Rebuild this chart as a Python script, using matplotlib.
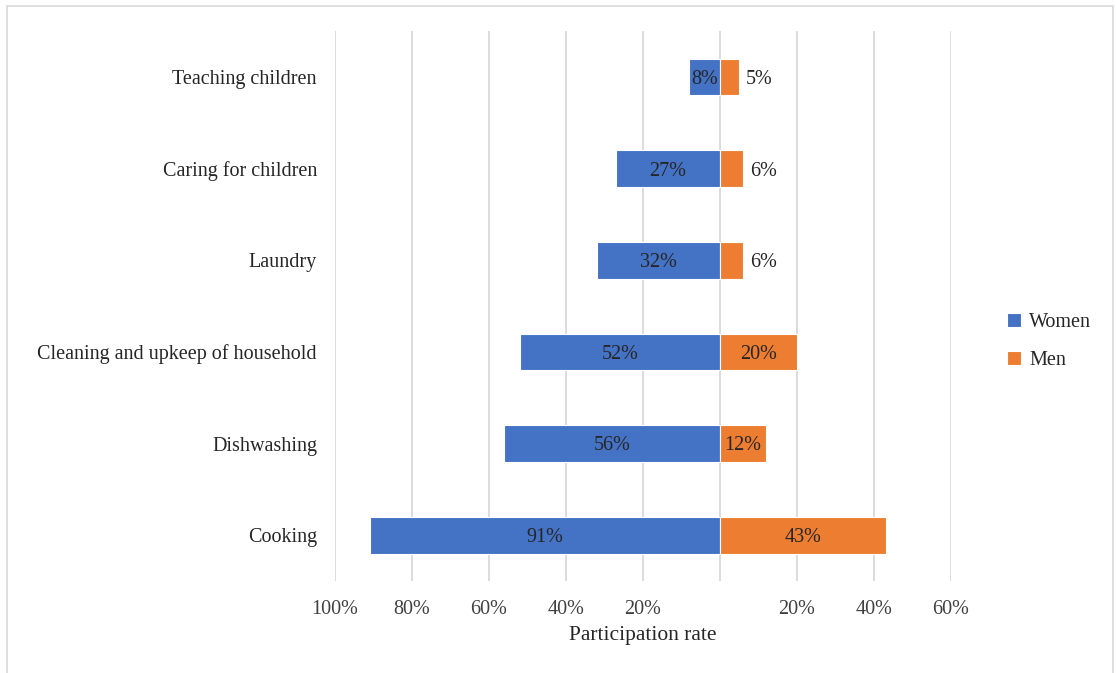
import matplotlib

matplotlib.use("Agg")
import matplotlib.pyplot as plt
from matplotlib.patches import Rectangle
import numpy as np

# --- data (top to bottom as drawn) ---------------------------------------------
activities = ["Teaching children", "Caring for children", "Laundry",
              "Cleaning and upkeep of household", "Dishwashing", "Cooking"]
women = [8, 27, 32, 52, 56, 91]
men = [5, 6, 6, 20, 12, 43]
tick_vals = [-100, -80, -60, -40, -20, 0, 20, 40, 60]
tick_labels = ["100%", "80%", "60%", "40%", "20%", "", "20%", "40%", "60%"]

BLUE = "#4472C4"
ORANGE = "#ED7D31"
GRID = "#D9D9D9"
FONT = "Liberation Serif"
FS = 14.5

plt.rcParams["font.family"] = FONT

fig = plt.figure(figsize=(11.16, 6.73), dpi=100)
ax = fig.add_axes([335 / 1116, 1 - 581 / 673, 616 / 1116, 550 / 673])

y = np.arange(len(activities))[::-1]
ax.barh(y, [-w for w in women], height=0.4, color=BLUE, edgecolor="white",
        linewidth=0.8, label="Women", zorder=3)
ax.barh(y, men, height=0.4, color=ORANGE, edgecolor="white",
        linewidth=0.8, label="Men", zorder=3)

for yi, w, m in zip(y, women, men):
    ax.text(-w / 2, yi, f"{w}%", ha="center", va="center_baseline", fontsize=FS,
            color="#262626", zorder=4)
    if m < 10:
        ax.text(m + 1.8, yi, f"{m}%", ha="left", va="center_baseline", fontsize=FS,
                color="#262626", zorder=4)
    else:
        ax.text(m / 2, yi, f"{m}%", ha="center", va="center_baseline", fontsize=FS,
                color="#262626", zorder=4)

ax.set_xlim(-100, 60)
ax.set_ylim(-0.5, len(activities) - 0.5)
ax.set_xticks(tick_vals)
ax.set_xticklabels(tick_labels, fontsize=FS, color="#404040")
ax.set_yticks(y)
ax.set_yticklabels(activities, fontsize=FS, color="#262626")
ax.tick_params(axis="x", length=0, pad=14)
ax.tick_params(axis="y", length=0, pad=13)
ax.xaxis.grid(True, color=GRID, lw=1.3, zorder=0)
for s in ax.spines.values():
    s.set_visible(False)
ax.set_xlabel("Participation rate", fontsize=15.5, color="#262626", labelpad=5)

leg = ax.legend(loc="center left", bbox_to_anchor=(1.062, 0.436), frameon=False,
                fontsize=FS, handlelength=0.7, handleheight=0.7,
                handletextpad=0.4, labelspacing=0.95)
for t in leg.get_texts():
    t.set_color("#262626")

fig.patches.append(Rectangle((7 / 1116, -0.01), 1106 / 1116, 1 - 6 / 673 + 0.01,
                             transform=fig.transFigure, fill=False,
                             edgecolor=GRID, lw=1.2))

fig.savefig("out.png", dpi=100, facecolor="white")
